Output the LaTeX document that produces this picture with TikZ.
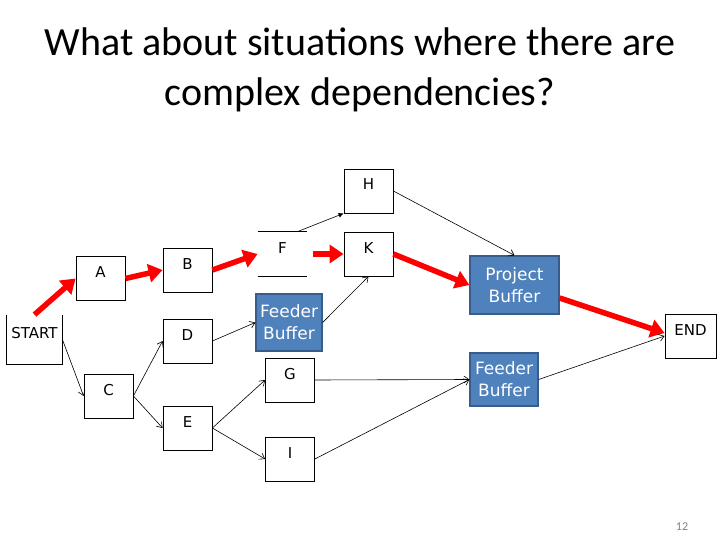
\documentclass[tikz,border=0pt]{standalone}
\usepackage{fontspec}
\setmainfont{Carlito}
\newfontfamily\boxfont{DejaVu Sans}
\usetikzlibrary{arrows.meta}
\definecolor{bufblue}{RGB}{79,129,189}
\definecolor{bufedge}{RGB}{56,93,138}

\begin{document}
\begin{tikzpicture}[
  x=1pt, y=-1pt,
  task/.style={draw, line width=0.8pt, minimum width=49pt, minimum height=44pt,
    inner sep=0pt, text height=21pt, text depth=23pt, font=\boxfont\fontsize{15}{18}\selectfont},
  buffer/.style={draw=bufedge, fill=bufblue, line width=1.2pt, text=white, align=center,
    inner sep=1pt, font=\boxfont\fontsize{17}{22}\selectfont},
  crit/.style={draw=red, line width=5.5pt, -{Triangle[length=14pt,width=18pt]}},
  link/.style={line width=0.6pt, -{Straight Barb[length=5pt,width=7pt]}},
]
\useasboundingbox (0,0) rectangle (720,540);

\node[align=center, font=\fontsize{40}{50}\selectfont] (title) at (360,70)
  {What about situations where there are\\complex dependencies?};

% tasks
\node[task, minimum width=55pt, minimum height=49pt, draw=none] (start) at (34.5,339.5) {START};
\draw[line width=0.8pt] (start.north west) -- (start.south west) -- (start.south east) -- (start.north east);
\node[task] (A) at (100.5,278.5) {A};
\node[task] (B) at (187.5,270) {B};
\node[task, draw=none] (F) at (282.5,254) {F};
\draw[line width=0.8pt] (F.north west) -- (F.north east) (F.south west) -- (F.south east);
\node[task] (H) at (368.5,191) {H};
\node[task] (K) at (368.5,254) {K};
\node[task] (C) at (108.5,396) {C};
\node[task] (D) at (187.5,341) {D};
\node[task, minimum height=42pt] (E) at (187.5,428) {E};
\node[task] (G) at (290,380) {G};
\node[task] (I) at (290,459) {I};
\node[task, minimum width=51pt] (end) at (690.5,336) {END};

% buffers
\node[buffer, minimum width=66pt, minimum height=57pt] (fb1) at (289,322.5) {Feeder\\Buffer};
\node[buffer, minimum width=89pt, minimum height=58pt] (pb) at (514.5,285) {Project\\Buffer};
\node[buffer, minimum width=68pt, minimum height=53pt] (fb2) at (504,379.5) {Feeder\\Buffer};

% critical chain
\draw[crit] (start.north) -- (A.west);
\draw[crit] (A.east) -- (B.west);
\draw[crit] (B.east) -- (F.west);
\draw[crit, shorten <=6pt] (F.east) -- (K.west);
\draw[crit] (K.east) -- (pb.west);
\draw[crit] ([yshift=-13pt]pb.east) -- ([yshift=3pt]end.west);

% other dependencies
\draw[line width=0.6pt, -{Latex[length=5pt,width=5pt]}] ([xshift=15pt]F.north) -- (H.south west);
\draw[link] (H.east) -- (pb.north);
\draw[link] (fb1.east) -- (K.south);
\draw[link] (start.east) -- (C.west);
\draw[link] (C.east) -- (D.west);
\draw[link] (C.east) -- (E.west);
\draw[link] (D.east) -- (fb1.west);
\draw[link] (E.east) -- (G.west);
\draw[link] (E.east) -- (I.west);
\draw[link] (G.east) -- (fb2.west);
\draw[link] (I.east) -- (fb2.west);
\draw[link] (fb2.east) -- (end.west);

\node[text=gray, font=\fontsize{12}{14}\selectfont] (page) at (682,527) {12};
\end{tikzpicture}
\end{document}
